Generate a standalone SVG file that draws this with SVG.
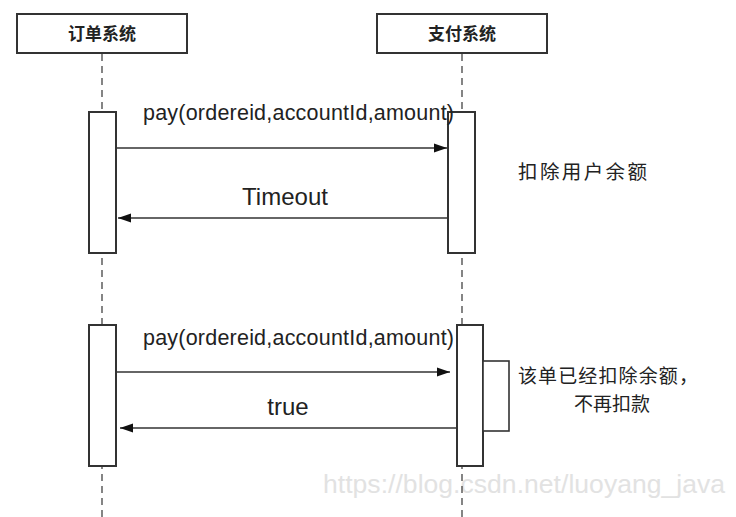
<svg xmlns="http://www.w3.org/2000/svg" width="736" height="517" viewBox="0 0 736 517">
<style>
.hdr{fill:#fff;stroke:#333;stroke-width:2}
.act{fill:#fff;stroke:#333;stroke-width:2}
.life{stroke:#444;stroke-width:1.3;stroke-dasharray:7 5;fill:none}
.msg{stroke:#333;stroke-width:1.4;fill:none}
.ht{font-family:"Noto Sans CJK SC",sans-serif;font-weight:bold;font-size:17px;fill:#222;text-anchor:middle}
.lbl{font-family:"Liberation Sans",Arial,sans-serif;fill:#222}
.cn{font-family:"Noto Sans CJK SC",sans-serif;font-size:19.5px;fill:#222}
.cn2{font-family:"Noto Sans CJK SC",sans-serif;font-size:19px;fill:#222}
.wm{font-family:"Liberation Sans",Arial,sans-serif;font-size:26.5px;fill:#e2e2e2}
</style>
<defs>
<marker id="ah" markerUnits="userSpaceOnUse" markerWidth="14" markerHeight="10" refX="13" refY="5" orient="auto">
<path d="M0,0.5 L13,5 L0,9.5 Z" fill="#111"/>
</marker>
</defs>
<text class="wm" x="323" y="493" textLength="402">https://blog.csdn.net/luoyang_java</text>
<g id="lifelines">
<line class="life" x1="102" y1="54" x2="102" y2="517"/>
<line class="life" x1="462" y1="54" x2="462" y2="517"/>
</g>
<g id="order-system">
<rect class="hdr" x="17" y="14" width="170" height="39"/>
<text class="ht" x="102" y="40">订单系统</text>
</g>
<g id="pay-system">
<rect class="hdr" x="377" y="14" width="170" height="39"/>
<text class="ht" x="462" y="40">支付系统</text>
</g>
<g id="act-order-1"><rect class="act" x="89" y="112" width="27" height="141"/></g>
<g id="act-pay-1"><rect class="act" x="448" y="112" width="27" height="141"/></g>
<g id="act-order-2"><rect class="act" x="89" y="325" width="27" height="141"/></g>
<g id="act-pay-2"><rect class="act" x="457" y="325" width="26" height="141"/></g>
<g id="self-pay"><rect x="483" y="361" width="26" height="70" fill="#fff" stroke="#333" stroke-width="1.6"/></g>
<g id="connectors">
<line class="msg" x1="117" y1="148" x2="447" y2="148" marker-end="url(#ah)"/>
<line class="msg" x1="447" y1="218" x2="118" y2="218" marker-end="url(#ah)"/>
<line class="msg" x1="117" y1="372" x2="450" y2="372" marker-end="url(#ah)"/>
<line class="msg" x1="456" y1="428" x2="120" y2="428" marker-end="url(#ah)"/>
</g>
<g id="labels">
<text class="lbl" x="143" y="120" font-size="21.5" textLength="311">pay(ordereid,accountId,amount)</text>
<text class="lbl" x="285" y="205" font-size="24" text-anchor="middle">Timeout</text>
<text class="lbl" x="143" y="345" font-size="21.5" textLength="311">pay(ordereid,accountId,amount)</text>
<text class="lbl" x="288" y="415" font-size="24" text-anchor="middle">true</text>
<text class="cn" x="518" y="179" textLength="129">扣除用户余额</text>
<text class="cn2" x="518" y="383" textLength="180">该单已经扣除余额，</text>
<text class="cn2" x="574" y="411">不再扣款</text>
</g>
</svg>
